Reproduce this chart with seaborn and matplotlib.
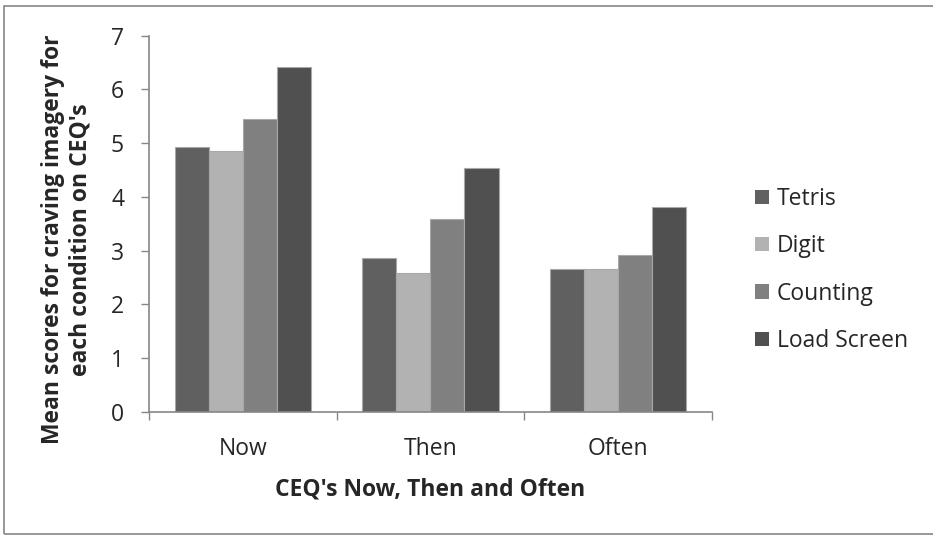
import pandas as pd
import matplotlib.pyplot as plt
import seaborn as sns

# values
periods = ["Now", "Then", "Often"]
conditions = ["Tetris", "Digit", "Counting", "Load Screen"]
tetris = [4.93, 2.86, 2.65]
digit = [4.85, 2.58, 2.65]
counting = [5.44, 3.58, 2.92]
load_screen = [6.42, 4.53, 3.82]
yticks = [0, 1, 2, 3, 4, 5, 6, 7]

colors = ["#606060", "#b2b2b2", "#808080", "#505050"]

df = pd.DataFrame({
    "period": periods * 4,
    "condition": [c for c in conditions for _ in periods],
    "score": tetris + digit + counting + load_screen,
})

sns.set_style("white")
plt.rcParams["font.family"] = ["Open Sans", "DejaVu Sans"]

fig = plt.figure(figsize=(9.33, 5.36), dpi=100)
ax = fig.add_axes([0.1597, 0.2319, 0.6034, 0.7015])

sns.barplot(data=df, x="period", y="score", hue="condition", order=periods,
            hue_order=conditions, palette=colors, width=0.725, gap=0,
            edgecolor="#a8a8a8", linewidth=0.8, ax=ax)

ax.set_ylim(0, 7)
ax.set_xlim(-0.5, 2.5)
ax.set_yticks(yticks)
ax.tick_params(axis="y", labelsize=16.5, length=6, width=1, color="#868686",
               pad=12, direction="out", left=True)
ax.set_xticks(range(len(periods)))
ax.set_xticklabels(periods)
ax.tick_params(axis="x", which="major", labelsize=16.5, length=0, pad=18)
ax.set_xticks([-0.5, 0.5, 1.5, 2.5], minor=True)
ax.tick_params(axis="x", which="minor", length=6, width=1, color="#868686",
               direction="out", bottom=True)

for side in ["top", "right"]:
    ax.spines[side].set_visible(False)
for side in ["left", "bottom"]:
    ax.spines[side].set_color("#868686")
    ax.spines[side].set_linewidth(1.2)

ax.set_xlabel("CEQ's Now, Then and Often", fontsize=16.5, fontweight="bold",
              labelpad=12)
ax.set_ylabel("Mean scores for craving imagery for\neach condition on CEQ's",
              fontsize=16.5, fontweight="bold", linespacing=1.15)
ax.yaxis.set_label_coords(-0.101, 0.458)

leg = ax.legend(loc="center left", bbox_to_anchor=(1.04, 0.377), frameon=False,
                fontsize=16.5, handlelength=0.6, handleheight=0.6,
                handletextpad=0.35, labelspacing=1.02)
for h in leg.legend_handles:
    h.set_edgecolor("none")

fig.add_artist(plt.Rectangle((0.0045, 0.0037), 1.0, 0.985,
                             transform=fig.transFigure, fill=False,
                             edgecolor="#868686", linewidth=1.2))

fig.savefig("out.png", dpi=100)
